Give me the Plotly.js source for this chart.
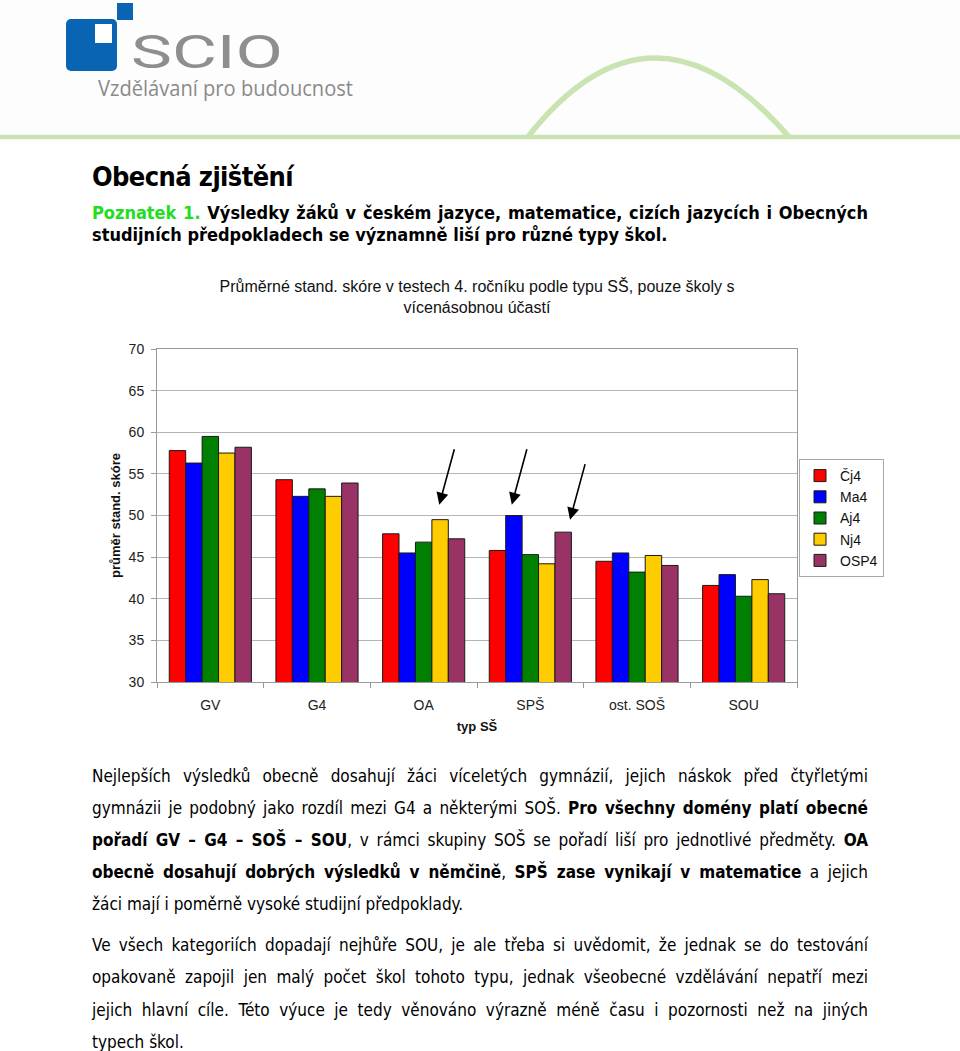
<!DOCTYPE html>
<html><head><meta charset="utf-8">
<script src="https://cdn.plot.ly/plotly-3.0.1.min.js"></script>
<style>
html,body{margin:0;padding:0;background:#fff;}
body{width:960px;height:1051px;position:relative;overflow:hidden;}
#hdr{position:absolute;left:0;top:0;z-index:0;}
#chart{position:absolute;left:0;top:0;width:960px;height:1051px;z-index:1;}
.ln{position:absolute;left:92px;width:776px;white-space:nowrap;font-family:"DejaVu Sans Condensed","DejaVu Sans",sans-serif;color:#000;z-index:2;}
.bd{font-size:17px;line-height:32px;height:32px;}
.pz{font-size:18px;line-height:23px;height:23px;font-weight:bold;}
.h1{font-size:27px;line-height:32px;height:32px;font-weight:bold;letter-spacing:-0.6px;}
.g{color:#22dd22;}
</style></head>
<body>
<svg id="hdr" width="960" height="142">
<rect x="0" y="0" width="960" height="136" fill="#fdfdfd"/>
<rect x="117" y="3" width="16" height="17" fill="#0a64b4"/>
<rect x="66" y="19" width="51" height="52" rx="5" fill="#0a64b4"/>
<rect x="95" y="24" width="17" height="19" fill="#ffffff"/>
<text x="131" y="68" font-family="Roboto, 'DejaVu Sans', sans-serif" font-size="46" fill="#8e8e8e" textLength="152" lengthAdjust="spacingAndGlyphs">SCIO</text>
<text x="98" y="96" font-family="'Open Sans', sans-serif" font-size="21" fill="#8a8a8a" textLength="255" lengthAdjust="spacingAndGlyphs">Vzdělávaní pro budoucnost</text>
<line x1="0" y1="137" x2="960" y2="137" stroke="#c9e3b2" stroke-width="4.5"/>
<path d="M527,138 Q652,-22 790,138" fill="none" stroke="#c9e3b2" stroke-width="5.5"/>
</svg>

<div class="ln h1" style="top:161.4px"><span>Obecná zjištění</span></div>
<div class="ln pz j" style="top:200.6px"><span><span class="g">Poznatek 1.</span> Výsledky žáků v českém jazyce, matematice, cizích jazycích i Obecných</span></div>
<div class="ln pz" style="top:223.3px"><span>studijních předpokladech se významně liší pro různé typy škol.</span></div>

<div id="chart"></div>

<div class="ln bd j" style="top:759.5px"><span>Nejlepších výsledků obecně dosahují žáci víceletých gymnázií, jejich náskok před čtyřletými</span></div>
<div class="ln bd j" style="top:791.5px"><span>gymnázii je podobný jako rozdíl mezi G4 a některými SOŠ. <b>Pro všechny domény platí obecné</b></span></div>
<div class="ln bd j" style="top:823.5px"><span><b>pořadí GV – G4 – SOŠ – SOU</b>, v rámci skupiny SOŠ se pořadí liší pro jednotlivé předměty. <b>OA</b></span></div>
<div class="ln bd j" style="top:855.5px"><span><b>obecně dosahují dobrých výsledků v němčině</b>, <b>SPŠ zase vynikají v matematice</b> a jejich</span></div>
<div class="ln bd" style="top:887.5px"><span>žáci mají i poměrně vysoké studijní předpoklady.</span></div>

<div class="ln bd j" style="top:928.7px"><span>Ve všech kategoriích dopadají nejhůře SOU, je ale třeba si uvědomit, že jednak se do testování</span></div>
<div class="ln bd j" style="top:961.3px"><span>opakovaně zapojil jen malý počet škol tohoto typu, jednak všeobecné vzdělávání nepatří mezi</span></div>
<div class="ln bd j" style="top:993.7px"><span>jejich hlavní cíle. Této výuce je tedy věnováno výrazně méně času i pozornosti než na jiných</span></div>
<div class="ln bd" style="top:1026px"><span>typech škol.</span></div>

<script>
// ---- data ----
const categories = ['GV', 'G4', 'OA', 'SPŠ', 'ost. SOŠ', 'SOU'];
const seriesNames = ['Čj4', 'Ma4', 'Aj4', 'Nj4', 'OSP4'];
const cj4  = [57.8, 54.3, 47.8, 45.8, 44.5, 41.6];
const ma4  = [56.3, 52.3, 45.5, 50.0, 45.5, 42.9];
const aj4  = [59.5, 53.2, 46.8, 45.3, 43.2, 40.3];
const nj4  = [57.5, 52.3, 49.5, 44.2, 45.2, 42.3];
const osp4 = [58.2, 53.9, 47.2, 48.0, 44.0, 40.6];
const yTicks = [30, 35, 40, 45, 50, 55, 60, 65, 70];
const seriesColors = ['#ff0000', '#0000ff', '#008000', '#ffcc00', '#993366'];
// arrow annotation heads (category serial, score)
const arrowX = [2.146, 2.826, 3.372];
const arrowY = [51.3, 51.3, 49.5];

const seriesValues = [cj4, ma4, aj4, nj4, osp4];
const traces = seriesValues.map((vals, i) => ({
  type: 'bar',
  name: seriesNames[i],
  x: categories,
  y: vals,
  marker: {color: seriesColors[i], line: {color: '#1a1a1a', width: 1}},
  hoverinfo: 'skip'
}));

const annotations = arrowX.map((ax, i) => ({
  x: ax, y: arrowY[i], xref: 'x', yref: 'y',
  ax: 15.5, ay: -57, axref: 'pixel', ayref: 'pixel',
  text: '', showarrow: true, arrowhead: 2, arrowsize: 1.5, arrowwidth: 1.6,
  arrowcolor: '#000', standoff: 0
}));

const layout = {
  width: 960, height: 1051,
  margin: {l: 157, r: 163, t: 349, b: 369, pad: 0},
  paper_bgcolor: 'rgba(0,0,0,0)',
  plot_bgcolor: '#ffffff',
  font: {family: '"Liberation Sans", Arial, sans-serif', size: 14, color: '#222'},
  title: {
    text: 'Průměrné stand. skóre v testech 4. ročníku podle typu SŠ, pouze školy s<br>vícenásobnou účastí',
    font: {size: 16, color: '#111'},
    xref: 'paper', x: 0.5, xanchor: 'center',
    yref: 'container', y: 1 - 292 / 1051, yanchor: 'middle'
  },
  barmode: 'group', bargap: 0.23, bargroupgap: 0,
  showlegend: true,
  legend: {
    x: (799 - 157) / 640, y: (682 - 459) / 333, xanchor: 'left', yanchor: 'top',
    bgcolor: '#ffffff', bordercolor: '#a8a8a8', borderwidth: 1,
    font: {size: 14, color: '#111'}, traceorder: 'normal'
  },
  xaxis: {
    type: 'category', ticks: 'outside', tickson: 'boundaries', ticklen: 5,
    tickcolor: '#999', showline: true, linecolor: '#999', mirror: true,
    showgrid: false, ticklabelstandoff: 10, fixedrange: true,
    title: {text: '<b>typ SŠ</b>', font: {size: 13, color: '#111'}, standoff: 10}
  },
  yaxis: {
    range: [30, 70], tickvals: yTicks, ticks: 'outside', ticklen: 5,
    tickcolor: '#999', showline: true, linecolor: '#999', mirror: true,
    gridcolor: '#b5b5b5', zeroline: false, fixedrange: true, ticklabelstandoff: 4,
    title: {text: '<b>průměr stand. skóre</b>', font: {size: 13, color: '#111'}, standoff: 5}
  },
  annotations: annotations
};

Plotly.newPlot('chart', traces, layout, {staticPlot: true, displayModeBar: false});

function justify() {
  document.querySelectorAll('.j').forEach(el => {
    el.style.wordSpacing = '0px';
    const span = el.firstElementChild;
    const w = span.getBoundingClientRect().width;
    const n = (span.textContent.match(/ /g) || []).length;
    if (n) el.style.wordSpacing = ((776 - w) / n) + 'px';
  });
}
justify();
if (document.fonts && document.fonts.ready) document.fonts.ready.then(justify);
</script>
</body></html>
